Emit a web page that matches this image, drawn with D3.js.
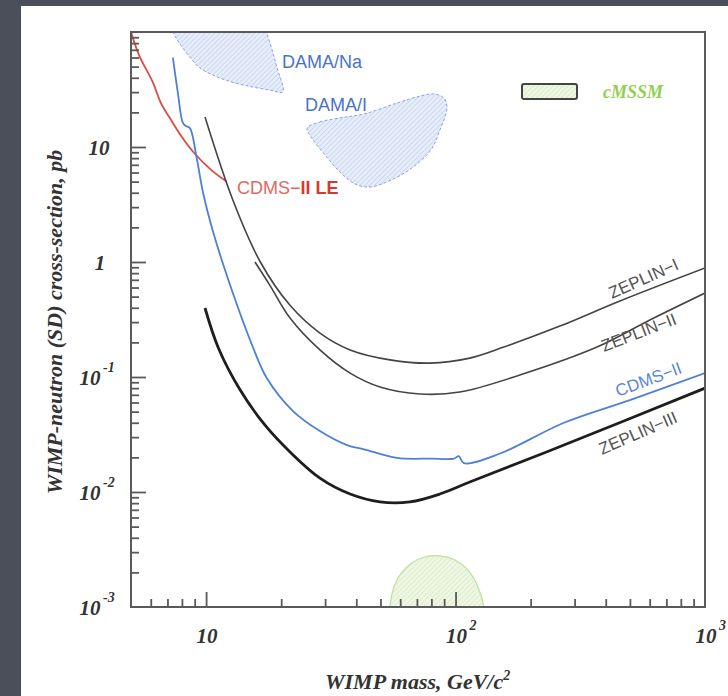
<!DOCTYPE html>
<html>
<head>
<meta charset="utf-8">
<script src="https://cdn.jsdelivr.net/npm/d3@7"></script>
<style>
  html, body { margin: 0; padding: 0; background: #4b4f59; }
  svg { display: block; }
</style>
</head>
<body>
<svg id="chart" width="728" height="696"></svg>
<script>
// Spin-dependent WIMP-neutron cross-section limits against WIMP mass.
// Values: [mass in GeV/c^2, cross-section in pb]

const massDomain = [5, 1000];
const sigmaDomain = [1e-3, 1e2];

const cdmsLE = [[5.0, 100], [5.4, 62], [6.1, 37], [6.6, 24], [7.2, 17.5], [8.0, 12.2], [8.9, 9.0], [10.5, 6.3], [12.1, 5.0]];

const cdmsII = [[7.36, 60], [7.7, 30], [8.07, 16.2], [8.3, 15.2], [8.61, 14.6], [9.2, 7.7], [9.73, 3.98], [10.7, 1.79],
  [12.8, 0.537], [15.4, 0.182], [17.5, 0.098], [22.3, 0.0506], [28.6, 0.0339], [36.7, 0.0256], [43, 0.0235],
  [58.2, 0.0198], [80, 0.0195], [98.6, 0.0195], [103, 0.0205], [108, 0.0178], [150, 0.0215], [272, 0.040],
  [500, 0.063], [1000, 0.108]];

const zeplinI = [[9.9, 18.2], [12.8, 3.46], [16.5, 1.0], [21.7, 0.42], [28.6, 0.241], [37.8, 0.172], [54.6, 0.141],
  [78.9, 0.132], [114, 0.146], [156, 0.182], [262, 0.277], [456, 0.458], [1000, 0.887]];

const zeplinII = [[15.7, 1.0], [18.0, 0.63], [21.7, 0.326], [28.6, 0.172], [37.8, 0.108], [49.8, 0.0818],
  [72, 0.0711], [104, 0.074], [181, 0.104], [369, 0.182], [601, 0.313], [1000, 0.537]];

const zeplinIII = [[9.9, 0.398], [11.2, 0.179], [13.7, 0.0771], [17.2, 0.0383], [21.7, 0.0223], [28.6, 0.0132],
  [37.8, 0.0096], [49.8, 0.0082], [65.6, 0.0082], [86.5, 0.0096], [114, 0.0122], [272, 0.0256], [1000, 0.080]];

const damaNa = [[7.0, 140], [17.2, 140], [17.5, 100], [18.4, 69.7], [19.2, 49.6], [20.3, 30.1], [18.0, 31.3],
  [15.4, 33.2], [13.1, 36], [11.1, 40.6], [9.46, 48.6], [8.6, 60.6], [7.86, 78.7], [7.36, 100]];

const damaI = [[25.4, 14.6], [28.6, 16.5], [34.4, 17.9], [43, 19.4], [58.2, 24.1], [72, 27.7], [81.9, 28.9],
  [89.8, 26.7], [92.4, 21.8], [86.6, 14.1], [79.6, 9.4], [66.8, 6.57], [55.1, 5.16], [45.4, 4.49],
  [39.5, 4.77], [34.4, 6.06], [30, 8.51], [26.5, 12]];

const cmssm = [[54, 0.0006], [54.6, 0.001], [56.1, 0.0014], [59.9, 0.0019], [66.8, 0.00241], [75.3, 0.00272],
  [86.6, 0.00278], [99.5, 0.00256], [112, 0.0021], [122, 0.00155], [130, 0.001], [131, 0.0006]];

const xMajorTicks = [10, 100, 1000];
const xTickExponents = [1, 2, 3];
const xMinorTicks = [6, 7, 8, 9, 20, 30, 40, 50, 60, 70, 80, 90, 200, 300, 400, 500, 600, 700, 800, 900];
const yMajorTicks = [1e-3, 1e-2, 1e-1, 1, 10, 100];
const yTickExponents = [-3, -2, -1, 0, 1];
const yMinorMantissas = [2, 3, 4, 5, 6, 7, 8, 9];

const svg = d3.select('#chart');
const W = 728, H = 696;
const plot = { left: 131, right: 705, top: 32, bottom: 607 };

// page panel
svg.append('rect').attr('x', 21).attr('y', 6).attr('width', W - 21).attr('height', H - 6).attr('fill', '#ffffff');

const x = d3.scaleLog().domain(massDomain).range([plot.left, plot.right]);
const y = d3.scaleLog().domain(sigmaDomain).range([plot.bottom, plot.top]);

const defs = svg.append('defs');
defs.append('clipPath').attr('id', 'plotClip')
  .append('rect').attr('x', plot.left).attr('y', plot.top)
  .attr('width', plot.right - plot.left).attr('height', plot.bottom - plot.top);

function hatch(id, bg, line) {
  const p = defs.append('pattern').attr('id', id).attr('patternUnits', 'userSpaceOnUse')
    .attr('width', 3.5).attr('height', 3.5).attr('patternTransform', 'rotate(45)');
  p.append('rect').attr('width', 3.5).attr('height', 3.5).attr('fill', bg);
  p.append('line').attr('x1', 0).attr('y1', 0).attr('x2', 0).attr('y2', 3.5)
    .attr('stroke', line).attr('stroke-width', 1);
}
hatch('hatchBlue', '#e6ecf8', '#b9c9ec');
hatch('hatchGreen', '#eef6e4', '#cfe6b2');

const inner = svg.append('g').attr('clip-path', 'url(#plotClip)');

const area = d3.line().x(d => x(d[0])).y(d => y(d[1]));

// excluded / favoured regions
inner.append('path').datum(damaNa)
  .attr('d', area.curve(d3.curveCatmullRomClosed.alpha(0.5)))
  .attr('fill', 'url(#hatchBlue)').attr('stroke', '#8aa3dc').attr('stroke-width', 1)
  .attr('stroke-dasharray', '3,2');
inner.append('path').datum(damaI)
  .attr('d', area.curve(d3.curveCatmullRomClosed.alpha(0.5)))
  .attr('fill', 'url(#hatchBlue)').attr('stroke', '#8aa3dc').attr('stroke-width', 1)
  .attr('stroke-dasharray', '3,2');
inner.append('path').datum(cmssm)
  .attr('d', area.curve(d3.curveCatmullRomClosed.alpha(0.5)))
  .attr('fill', 'url(#hatchGreen)').attr('stroke', '#bfe09a').attr('stroke-width', 1.2);

// limit curves
const smooth = d3.line().x(d => x(d[0])).y(d => y(d[1])).curve(d3.curveCatmullRom.alpha(0.5));
const curves = [
  { data: cdmsLE, color: '#dd4b42', width: 1.8 },
  { data: zeplinI, color: '#444444', width: 1.6 },
  { data: zeplinII, color: '#444444', width: 1.6 },
  { data: cdmsII, color: '#4f7fd8', width: 1.8 },
  { data: zeplinIII, color: '#1e1e1e', width: 2.8 }
];
curves.forEach(c => {
  inner.append('path').datum(c.data).attr('d', smooth)
    .attr('fill', 'none').attr('stroke', c.color).attr('stroke-width', c.width)
    .attr('stroke-linejoin', 'round');
});

// axes: ticks point inward
const axisColor = '#5a5a5a';
function styleAxis(g) {
  g.select('.domain').remove();
  g.selectAll('.tick line').attr('stroke', axisColor).attr('stroke-width', 1.8);
  g.selectAll('.tick text').remove();
}
svg.append('g').attr('transform', `translate(0,${plot.bottom})`)
  .call(d3.axisBottom(x).tickValues(xMajorTicks.filter(v => v < 1000)).tickSize(-15)).call(styleAxis);
svg.append('g').attr('transform', `translate(0,${plot.bottom})`)
  .call(d3.axisBottom(x).tickValues(xMinorTicks).tickSize(-8)).call(styleAxis);

const yMinor = [];
yMajorTicks.slice(0, -1).forEach(dec => yMinorMantissas.forEach(m => yMinor.push(dec * m)));
svg.append('g').attr('transform', `translate(${plot.left},0)`)
  .call(d3.axisLeft(y).tickValues(yMajorTicks.slice(1, -1)).tickSize(-15)).call(styleAxis);
svg.append('g').attr('transform', `translate(${plot.left},0)`)
  .call(d3.axisLeft(y).tickValues(yMinor).tickSize(-8)).call(styleAxis);

// frame
svg.append('rect').attr('x', plot.left).attr('y', plot.top)
  .attr('width', plot.right - plot.left).attr('height', plot.bottom - plot.top)
  .attr('fill', 'none').attr('stroke', axisColor).attr('stroke-width', 2);

// tick labels
const serif = '"Liberation Serif", "Times New Roman", serif';
const tickFont = 21;
function powerLabel(px, py, exp) {
  const t = svg.append('text').attr('font-family', serif).attr('font-weight', 'bold')
    .attr('font-style', 'italic').attr('font-size', tickFont).attr('fill', '#333')
    .attr('x', px).attr('y', py).attr('text-anchor', 'middle');
  if (exp === 0) { t.text('1'); return; }
  t.text('10');
  if (exp === 1) return;
  svg.append('text').attr('font-family', serif).attr('font-weight', 'bold')
    .attr('font-style', 'italic').attr('font-size', 14).attr('fill', '#333')
    .attr('x', px + 13).attr('y', py - 13).text(exp < 0 ? '-' + (-exp) : String(exp));
}
yMajorTicks.slice(0, -1).forEach((v, i) => {
  const e = yTickExponents[i];
  const cx = e === 1 ? 99 : (e === 0 ? 100 : 90);
  powerLabel(cx, y(v) + 8, e);
});
xMajorTicks.forEach((v, i) => {
  powerLabel(x(v) + 1, 643, xTickExponents[i]);
});

// axis titles
svg.append('text').attr('font-family', serif).attr('font-weight', 'bold').attr('font-style', 'italic')
  .attr('font-size', 22).attr('fill', '#333').attr('x', 325).attr('y', 689)
  .text('WIMP mass, GeV/c')
  .append('tspan').attr('font-size', 14).attr('dy', -9).text('2');

svg.append('text').attr('font-family', serif).attr('font-weight', 'bold').attr('font-style', 'italic')
  .attr('font-size', 22).attr('fill', '#333')
  .attr('transform', 'translate(62,322) rotate(-90)').attr('text-anchor', 'middle')
  .text('WIMP-neutron (SD) cross-section, pb');

// curve and region labels
const sans = '"Liberation Sans", Arial, sans-serif';
function label(txt, px, py, color, size, angle) {
  return svg.append('text').attr('font-family', sans).attr('font-size', size).attr('fill', color)
    .attr('transform', `translate(${px},${py}) rotate(${angle || 0})`).text(txt);
}
label('DAMA/Na', 282, 68, '#4a72cc', 18);
label('DAMA/I', 305, 111, '#4a72cc', 18);
const le = label('CDMS\u2212', 237, 194, '#e06a60', 18);
le.append('tspan').attr('font-weight', 'bold').attr('fill', '#d9382e').text('II LE');
label('ZEPLIN\u2212I', 612, 299, '#555', 17, -24);
label('ZEPLIN\u2212II', 604, 352, '#555', 17, -21);
label('CDMS\u2212II', 618, 397, '#5b87da', 17, -20.5);
label('ZEPLIN\u2212III', 602, 455, '#555', 17, -23.5);

// legend for the cMSSM region
svg.append('rect').attr('x', 522).attr('y', 84).attr('width', 55).attr('height', 15).attr('rx', 2)
  .attr('fill', 'url(#hatchGreen)').attr('stroke', '#444').attr('stroke-width', 2);
svg.append('text').attr('font-family', serif).attr('font-weight', 'bold').attr('font-style', 'italic')
  .attr('font-size', 18).attr('fill', '#8fd14f').attr('x', 603).attr('y', 98).text('cMSSM');
</script>
</body>
</html>
